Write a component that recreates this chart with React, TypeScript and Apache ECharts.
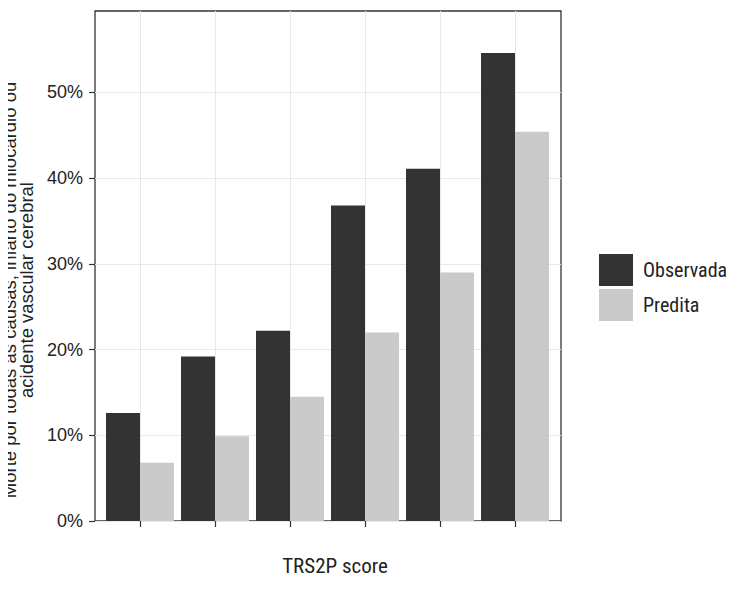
import React, { useEffect, useRef } from "react";
import * as echarts from "echarts";

// TRS2P score groups (axis labels are not printed)
const categories = ["0", "1", "2", "3", "4", "≥5"];
// Observed event rate per group (fraction)
const observada = [0.126, 0.192, 0.222, 0.368, 0.411, 0.546];
// Predicted event rate per group (fraction)
const predita = [0.068, 0.099, 0.145, 0.22, 0.29, 0.454];
const yTicks = [0, 0.1, 0.2, 0.3, 0.4, 0.5];
const seriesNames = ["Observada", "Predita"];

const NARROW = "'Liberation Sans Narrow', 'Arial Narrow', 'Roboto Condensed', Roboto, sans-serif";
const SANS = "'Liberation Sans', Arial, sans-serif";
const DARK = "#333333";
const LIGHT = "#cacaca";
const GRIDLINE = "#e8e8e8";
const Y_MAX = 0.595;

export default function App() {
  const ref = useRef<HTMLDivElement>(null);

  useEffect(() => {
    if (!ref.current) return;
    const chart = echarts.init(ref.current, undefined, { renderer: "svg" });
    chart.setOption({
      animation: false,
      backgroundColor: "#ffffff",
      textStyle: { fontFamily: NARROW },
      grid: [
        // panel with border and horizontal grid lines
        { left: 95, top: 11, right: 184, bottom: 69, show: true, borderColor: DARK, borderWidth: 1.3, backgroundColor: "#ffffff", z: 0 },
        // bar layout area spanning first to last category
        { left: 140, top: 11, right: 230, bottom: 69 },
      ],
      xAxis: [
        { type: "value", gridIndex: 0, min: 0, max: 1, show: false },
        {
          type: "category",
          gridIndex: 1,
          data: categories,
          boundaryGap: false,
          axisLine: { show: false },
          axisTick: { show: true, length: 6, lineStyle: { color: DARK, width: 1.2 } },
          axisLabel: { show: false },
          splitLine: { show: true, lineStyle: { color: GRIDLINE, width: 1 } },
        },
      ],
      yAxis: [
        {
          type: "value",
          gridIndex: 0,
          min: 0,
          max: Y_MAX,
          interval: 0.05,
          axisLine: { show: false },
          axisTick: { show: true, length: 6, customValues: yTicks, lineStyle: { color: DARK, width: 1.2 } },
          axisLabel: {
            customValues: yTicks,
            formatter: (v: number) => `${Math.round(v * 100)}%`,
            fontFamily: SANS,
            fontSize: 18,
            color: "#222222",
            margin: 12,
          },
          splitLine: { show: true, lineStyle: { color: GRIDLINE, width: 1 } },
        },
        { type: "value", gridIndex: 1, min: 0, max: Y_MAX, show: false },
      ],
      legend: {
        orient: "vertical",
        left: 594,
        top: 249,
        itemWidth: 34,
        itemHeight: 32,
        itemGap: 3,
        icon: "rect",
        data: seriesNames,
        textStyle: { fontFamily: NARROW, fontSize: 20, color: "#222222", padding: [0, 0, 0, 5] },
      },
      graphic: [
        {
          type: "text",
          x: 18,
          y: 290,
          rotation: Math.PI / 2,
          style: {
            text: "Morte por todas as causas, infarto do miocárdio ou\nacidente vascular cerebral",
            fontFamily: SANS,
            fontSize: 18.5,
            lineHeight: 17,
            fill: "#222222",
            align: "center",
            verticalAlign: "middle",
          },
        },
        {
          type: "text",
          x: 335,
          y: 566,
          style: {
            text: "TRS2P score",
            fontFamily: NARROW,
            fontSize: 21,
            fill: "#222222",
            align: "center",
            verticalAlign: "middle",
          },
        },
      ],
      series: [
        {
          name: seriesNames[0],
          type: "bar",
          xAxisIndex: 1,
          yAxisIndex: 1,
          data: observada,
          barWidth: 34,
          barGap: "0%",
          clip: false,
          itemStyle: { color: DARK },
        },
        {
          name: seriesNames[1],
          type: "bar",
          xAxisIndex: 1,
          yAxisIndex: 1,
          data: predita,
          barWidth: 34,
          barGap: "0%",
          clip: false,
          itemStyle: { color: LIGHT },
        },
      ],
    });
    return () => chart.dispose();
  }, []);

  return <div ref={ref} style={{ width: 745, height: 590, margin: -8 }} />;
}
